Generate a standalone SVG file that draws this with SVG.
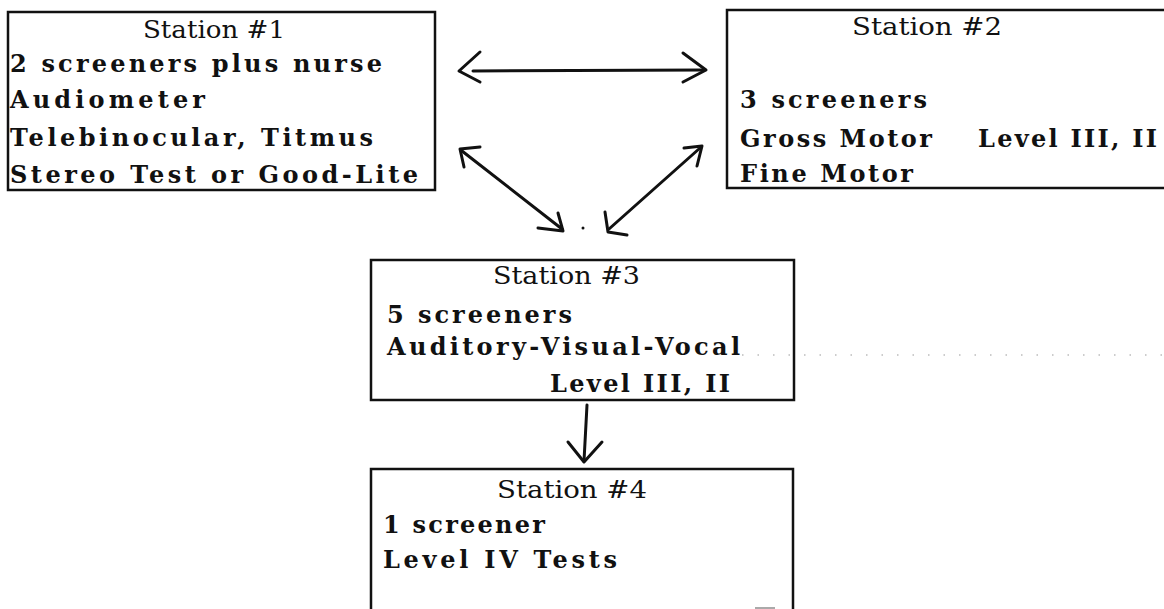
<svg xmlns="http://www.w3.org/2000/svg" width="1164" height="609" viewBox="0 0 1164 609">
<defs>
<style>
.box{fill:none;stroke:#111;stroke-width:2.5}
.t{font-family:"DejaVu Serif","Liberation Serif",serif;font-size:24px;font-weight:bold;fill:#111}
.h{font-weight:normal;font-size:24px}
.arr{fill:none;stroke:#111;stroke-width:3;stroke-linecap:round;stroke-linejoin:round}
.dots{fill:none;stroke:#999;stroke-width:1.2;stroke-dasharray:1.5 14}
</style>
</defs>
<rect width="1164" height="609" fill="#fff"/>
<g id="station1">
<rect class="box" x="8" y="12" width="427" height="178"/>
<text class="t h" x="143" y="38" textLength="142" lengthAdjust="spacingAndGlyphs">Station #1</text>
<text class="t" x="10" y="72" textLength="372" lengthAdjust="spacing">2 screeners plus nurse</text>
<text class="t" x="10" y="108" textLength="195" lengthAdjust="spacing">Audiometer</text>
<text class="t" x="10" y="146" textLength="363" lengthAdjust="spacing">Telebinocular, Titmus</text>
<text class="t" x="10" y="183" textLength="408" lengthAdjust="spacing">Stereo Test or Good-Lite</text>
</g>
<g id="station2">
<path class="box" d="M1170 10 H727 V188 H1170"/>
<text class="t h" x="852" y="35" textLength="150" lengthAdjust="spacingAndGlyphs">Station #2</text>
<text class="t" x="740" y="108" textLength="187" lengthAdjust="spacing">3 screeners</text>
<text class="t" x="740" y="147" textLength="192" lengthAdjust="spacing">Gross Motor</text>
<text class="t" x="978" y="147" textLength="179" lengthAdjust="spacing">Level III, II</text>
<text class="t" x="740" y="182" textLength="173" lengthAdjust="spacing">Fine Motor</text>
</g>
<g id="station3">
<rect class="box" x="371" y="260" width="423" height="140"/>
<text class="t h" x="493" y="284" textLength="147" lengthAdjust="spacingAndGlyphs">Station #3</text>
<text class="t" x="387" y="323" textLength="185" lengthAdjust="spacing">5 screeners</text>
<text class="t" x="387" y="355" textLength="353" lengthAdjust="spacing">Auditory-Visual-Vocal</text>
<text class="t" x="550" y="392" textLength="180" lengthAdjust="spacing">Level III, II</text>
</g>
<g id="station4">
<path class="box" d="M371 615 V469 H793 V615"/>
<text class="t h" x="497" y="498" textLength="150" lengthAdjust="spacingAndGlyphs">Station #4</text>
<text class="t" x="383" y="533" textLength="162" lengthAdjust="spacing">1 screener</text>
<text class="t" x="383" y="568" textLength="234" lengthAdjust="spacing">Level IV Tests</text>
<rect x="755" y="607" width="20" height="3" fill="#aaa"/>
</g>
<g id="connectors">
<path class="arr" d="M473 71 L703 70"/>
<path class="arr" d="M480 52 L459 71 L480 82"/>
<path class="arr" d="M683 53 L706 70 L683 82"/>
<path class="arr" d="M462 151 L562 229"/>
<path class="arr" d="M480 147 L460 149 L464 167"/>
<path class="arr" d="M558 213 L563 231 L538 228"/>
<path class="arr" d="M700 148 L609 229"/>
<path class="arr" d="M684 148 L702 146 L697 166"/>
<path class="arr" d="M605 212 L608 232 L627 235"/>
<circle cx="583" cy="228" r="1.5" fill="#111"/>
<path class="arr" d="M587 405 L584 461"/>
<path class="arr" d="M568 442 L584 462 L602 442"/>
<path class="dots" d="M742 355 H1164"/>
</g>
</svg>
